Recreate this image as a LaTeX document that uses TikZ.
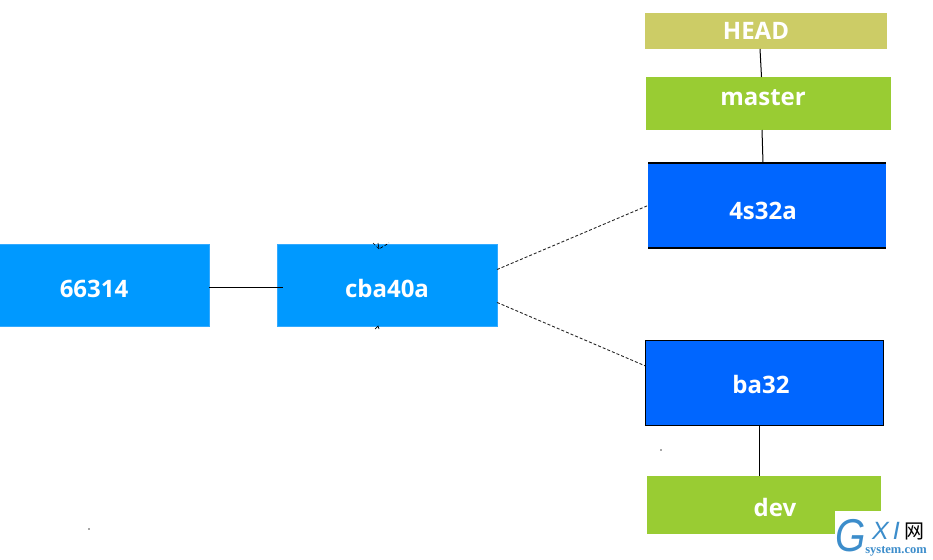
\documentclass[tikz,border=0pt]{standalone}
\usepackage{fontspec}
\setmainfont{Open Sans}
\newfontfamily\cjkfont{Noto Sans CJK SC}
\newfontfamily\markfont{Liberation Sans}
\newfontfamily\seriffont{Liberation Serif}
\definecolor{commitblue}{HTML}{0099FF}
\definecolor{commitedge}{HTML}{33AAFF}
\definecolor{tipblue}{HTML}{0066FF}
\definecolor{branchgreen}{HTML}{99CC33}
\definecolor{headyellow}{HTML}{CCCC66}
\definecolor{markblue}{HTML}{3C8DCB}
\tikzset{
  boxnode/.style={inner sep=0pt, outer sep=0pt, anchor=north west},
  boxtext/.style={text=white, font=\fontsize{24}{24}\selectfont\bfseries, inner sep=0pt},
  link/.style={black, line width=1pt},
  dashlink/.style={black!85, line width=0.9pt, densely dashed}
}
\begin{document}
\begin{tikzpicture}[x=1pt,y=-1pt]
\useasboundingbox (0,0) rectangle (933,559);
% commits
\node[boxnode, fill=commitblue, draw=commitedge, minimum width=230pt, minimum height=82pt] (c66314) at (-21,244) {};
\node[boxnode, fill=commitblue, draw=commitedge, minimum width=220pt, minimum height=82pt] (cba40a) at (277,244) {};
\node[boxnode, fill=tipblue, minimum width=238pt, minimum height=85pt] (s32a) at (648,163) {};
\node[boxnode, fill=tipblue, draw=black, line width=0.8pt, minimum width=238pt, minimum height=85pt] (ba32) at (645,340) {};
\draw[black, line width=1.3pt] (s32a.north west) -- (s32a.north east);
\draw[black, line width=1.3pt] (s32a.south west) -- (s32a.south east);
% pointers
\node[boxnode, fill=headyellow, minimum width=242pt, minimum height=36pt] (head) at (645,13) {};
\node[boxnode, fill=branchgreen, minimum width=245pt, minimum height=53pt] (master) at (646,77) {};
\node[boxnode, fill=branchgreen, minimum width=234pt, minimum height=58pt] (dev) at (647,476) {};
% labels
\node[boxtext] (t66314) at (94,289) {66314};
\node[boxtext] (tcba) at (387,288) {cba40a};
\node[boxtext] (ts32a) at (763,211) {4s32a};
\node[boxtext] (tba32) at (761,384) {ba32};
\node[boxtext] (thead) at (756,31) {HEAD};
\node[boxtext] (tmaster) at (763,98) {master};
\node[boxtext] (tdev) at (775,507) {dev};
% connectors
\draw[link] ([yshift=-2pt]c66314.east) -- ([xshift=6pt,yshift=-2pt]cba40a.west);
\draw[dashlink] (cba40a.8) -- (s32a.west);
\draw[dashlink] (cba40a.-9) -- (ba32.172.6);
\draw[link] ([xshift=-6pt]head.south) -- ([xshift=-7pt]master.north);
\draw[link] ([xshift=-6.5pt]master.south) -- ([xshift=-4pt]s32a.north);
\draw[link] ([xshift=-5pt]ba32.south) -- ([xshift=-5pt]dev.north);
% stray marks on cba40a
\draw[black, line width=0.7pt, densely dashed] (373,243) -- (379,249) -- (389,243);
\draw[black, line width=0.7pt] (378,243) -- (379,249);
\draw[black, line width=0.7pt] (375,329) -- (378,326) -- (379,329);
\fill[black!70] (661,450) circle (0.8pt);
\fill[black!70] (89,529) circle (0.8pt);
% corner mark
\node[boxnode, fill=white, minimum width=98pt, minimum height=48pt] (corner) at (835,511) {};
\node[text=markblue, inner sep=0pt, xscale=0.85, font=\markfont\itshape\fontsize{46}{46}\selectfont] (markg) at (851,536) {G};
\node[text=markblue, inner sep=0pt, font=\markfont\itshape\fontsize{25}{25}\selectfont] (markxi) at (886,531) {X\,I};
\node[inner sep=0pt, font=\cjkfont\fontsize{20}{20}\selectfont] (markwang) at (914,531) {网};
\node[text=markblue, inner sep=0pt, font=\seriffont\bfseries\fontsize{12.5}{12.5}\selectfont] (marksys) at (896,551) {system.com};
\end{tikzpicture}
\end{document}
